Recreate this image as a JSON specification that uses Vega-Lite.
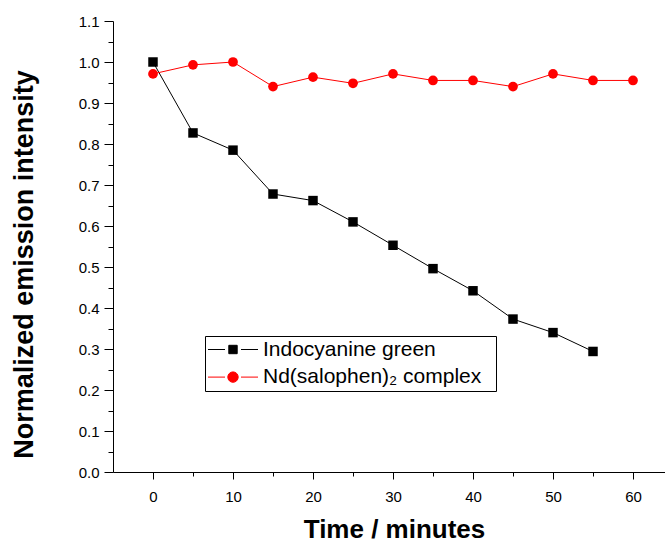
{
  "$schema": "https://vega.github.io/schema/vega-lite/v6.json",
  "width": 552,
  "height": 451,
  "autosize": {"type": "none"},
  "padding": {"left": 113, "top": 21, "right": 0, "bottom": 69},
  "background": "white",
  "config": {
    "view": {"stroke": null},
    "font": "Liberation Sans",
    "axis": {
      "grid": false,
      "domainColor": "black",
      "domainWidth": 1,
      "tickColor": "black",
      "tickWidth": 1,
      "labelColor": "black",
      "titleColor": "black",
      "labelFont": "Liberation Sans",
      "titleFont": "Liberation Sans",
      "labelFontSize": 15
    }
  },
  "data": {
    "values": [
      {"series": "Indocyanine green", "time": 0, "intensity": 1.0},
      {"series": "Indocyanine green", "time": 5, "intensity": 0.827},
      {"series": "Indocyanine green", "time": 10, "intensity": 0.785},
      {"series": "Indocyanine green", "time": 15, "intensity": 0.678},
      {"series": "Indocyanine green", "time": 20, "intensity": 0.662},
      {"series": "Indocyanine green", "time": 25, "intensity": 0.61},
      {"series": "Indocyanine green", "time": 30, "intensity": 0.553},
      {"series": "Indocyanine green", "time": 35, "intensity": 0.496},
      {"series": "Indocyanine green", "time": 40, "intensity": 0.442},
      {"series": "Indocyanine green", "time": 45, "intensity": 0.373},
      {"series": "Indocyanine green", "time": 50, "intensity": 0.34},
      {"series": "Indocyanine green", "time": 55, "intensity": 0.294},
      {"series": "Nd(salophen)₂ complex", "time": 0, "intensity": 0.971},
      {"series": "Nd(salophen)₂ complex", "time": 5, "intensity": 0.993},
      {"series": "Nd(salophen)₂ complex", "time": 10, "intensity": 1.0},
      {"series": "Nd(salophen)₂ complex", "time": 15, "intensity": 0.94},
      {"series": "Nd(salophen)₂ complex", "time": 20, "intensity": 0.963},
      {"series": "Nd(salophen)₂ complex", "time": 25, "intensity": 0.948},
      {"series": "Nd(salophen)₂ complex", "time": 30, "intensity": 0.971},
      {"series": "Nd(salophen)₂ complex", "time": 35, "intensity": 0.955},
      {"series": "Nd(salophen)₂ complex", "time": 40, "intensity": 0.955},
      {"series": "Nd(salophen)₂ complex", "time": 45, "intensity": 0.94},
      {"series": "Nd(salophen)₂ complex", "time": 50, "intensity": 0.971},
      {"series": "Nd(salophen)₂ complex", "time": 55, "intensity": 0.955},
      {"series": "Nd(salophen)₂ complex", "time": 60, "intensity": 0.955}
    ]
  },
  "resolve": {"axis": {"x": "independent", "y": "independent"}},
  "layer": [
    {
      "transform": [{"filter": "datum.series === 'Indocyanine green'"}],
      "mark": {"type": "line", "strokeWidth": 1, "color": "black"},
      "encoding": {
        "x": {
          "field": "time", "type": "quantitative",
          "scale": {"domain": [-5, 64], "nice": false, "zero": false},
          "axis": {"orient": "bottom", "values": [5, 15, 25, 35, 45, 55], "labels": false, "domain": false, "tickSize": 4, "title": null}
        },
        "y": {
          "field": "intensity", "type": "quantitative",
          "scale": {"domain": [0, 1.1], "nice": false},
          "axis": {"orient": "left", "values": [0.05, 0.15, 0.25, 0.35, 0.45, 0.55, 0.65, 0.75, 0.85, 0.95, 1.05], "labels": false, "domain": false, "tickSize": 5, "title": null}
        }
      }
    },
    {
      "transform": [{"filter": "datum.series !== 'Indocyanine green'"}],
      "mark": {"type": "line", "strokeWidth": 1, "color": "red"},
      "encoding": {
        "x": {"field": "time", "type": "quantitative", "axis": null},
        "y": {"field": "intensity", "type": "quantitative", "axis": null}
      }
    },
    {
      "transform": [{"filter": "datum.series === 'Indocyanine green'"}],
      "mark": {"type": "point", "shape": "square", "filled": true, "opacity": 1, "size": 90, "color": "black"},
      "encoding": {
        "x": {
          "field": "time", "type": "quantitative",
          "axis": {
            "orient": "bottom", "values": [0, 10, 20, 30, 40, 50, 60], "tickSize": 7, "labelPadding": 10, "labelFontSize": 15,
            "title": "Time / minutes", "titleFontSize": 26, "titleFontWeight": "bold",
            "titleX": 281, "titleY": 65, "titleBaseline": "alphabetic", "titleAlign": "center"
          }
        },
        "y": {
          "field": "intensity", "type": "quantitative",
          "axis": {
            "orient": "left", "values": [0, 0.1, 0.2, 0.3, 0.4, 0.5, 0.6, 0.7, 0.8, 0.9, 1.0, 1.1], "format": ".1f",
            "tickSize": 9, "labelPadding": 5, "labelFontSize": 15,
            "title": "Normalized emission intensity", "titleFontSize": 27, "titleFontWeight": "bold",
            "titleX": -81, "titleY": 243, "titleAngle": -90, "titleBaseline": "alphabetic", "titleAlign": "center"
          }
        }
      }
    },
    {
      "transform": [{"filter": "datum.series !== 'Indocyanine green'"}],
      "mark": {"type": "point", "shape": "circle", "filled": true, "opacity": 1, "size": 95, "color": "red"},
      "encoding": {
        "x": {"field": "time", "type": "quantitative", "axis": null},
        "y": {"field": "intensity", "type": "quantitative", "axis": null}
      }
    },
    {
      "mark": {"type": "point", "filled": true, "opacity": 1, "size": 0, "strokeWidth": 1},
      "encoding": {
        "x": {"field": "time", "type": "quantitative", "axis": null},
        "y": {"field": "intensity", "type": "quantitative", "axis": null},
        "fill": {
          "field": "series", "type": "nominal",
          "scale": {"domain": ["Indocyanine green", "Nd(salophen)₂ complex"], "range": ["black", "red"]},
          "legend": {
            "orient": "none", "legendX": 92, "legendY": 315, "title": null,
            "padding": 3, "rowPadding": 5.6,
            "labelFontSize": 21, "labelFont": "Liberation Sans", "labelColor": "black", "labelLimit": 500,
            "labelOffset": 19.5, "symbolOffset": 14.5, "symbolSize": 400, "symbolStrokeWidth": 1, "symbolOpacity": 1,
            "strokeColor": "black", "fillColor": "white",
            "labelExpr": "datum.label + '\u00a0\u00a0\u200b'"
          }
        },
        "stroke": {
          "field": "series", "type": "nominal",
          "scale": {"domain": ["Indocyanine green", "Nd(salophen)₂ complex"], "range": ["black", "red"]}
        },
        "shape": {
          "field": "series", "type": "nominal",
          "scale": {
            "domain": ["Indocyanine green", "Nd(salophen)₂ complex"],
            "range": [
              "M-2.5,0H-0.8M0.8,0H2.5M-0.42,-0.42H0.42V0.42H-0.42Z",
              "M-2.5,0H-0.8M0.8,0H2.5M-0.52,0A0.52,0.52,0,1,0,0.52,0A0.52,0.52,0,1,0,-0.52,0Z"
            ]
          }
        }
      }
    }
  ]
}
